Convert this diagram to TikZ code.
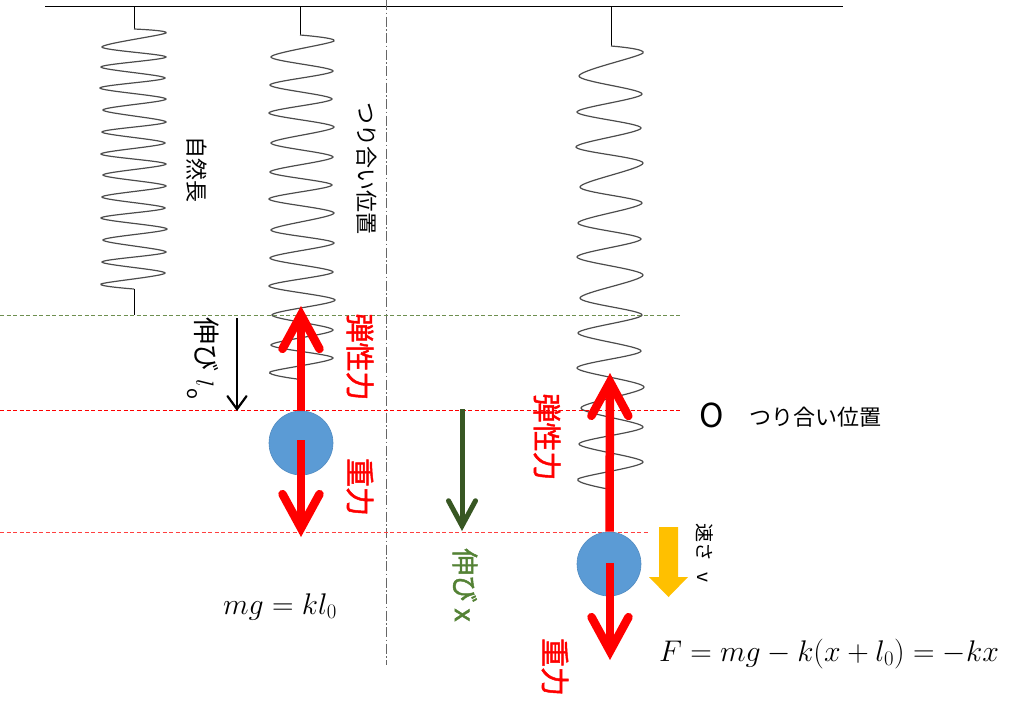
\documentclass[tikz,border=0pt]{standalone}
\usepackage{fontspec}
\setmainfont{Noto Sans CJK JP}
\newfontfamily\jpheavy[FakeBold=1.6]{Noto Sans CJK JP}
\usetikzlibrary{arrows.meta,positioning}
\definecolor{ballblue}{HTML}{5B9BD5}
\definecolor{darkgreen}{HTML}{385723}
\definecolor{labelgreen}{HTML}{548235}
\definecolor{levelgreen}{HTML}{6E8F50}
\definecolor{speedyellow}{HTML}{FFC000}

\begin{document}
\begin{tikzpicture}[x=1pt,y=-1pt,
    coil/.style={draw=black!70,line width=1.2pt},
    wall/.style={line width=1pt},
    level/.style={line width=.6pt,dash pattern=on 4pt off 2.5pt},
    ball/.style={circle,fill=ballblue,draw=ballblue!90!black,line width=.6pt,minimum size=64pt,inner sep=0pt},
    force/.style={red,line width=8.5pt,-{Straight Barb[line cap=round,length=34pt,width=37pt]}},
    txt/.style={rotate=-90,inner sep=0pt,font=\fontsize{22pt}{22pt}\selectfont},
    forcetxt/.style={rotate=-90,inner sep=0pt,red,font=\fontsize{29pt}{29pt}\selectfont\jpheavy},
    formula/.style={inner sep=0pt,font=\fontsize{24pt}{24pt}\selectfont,scale=1.2}]
    \useasboundingbox (0,0) rectangle (1024,721);

    % ceiling and stems
    \coordinate (wallL) at (45,6);
    \coordinate (wallR) at (843,6);
    \draw[wall] (wallL) -- (wallR);
    \foreach \n/\x/\y in {A/134/29,B/300/35,C/611/46}{
        \coordinate (top\n) at (\x,6);
        \coordinate (coil\n) at (\x,\y);
        \draw[wall] (top\n) -- (coil\n);
    }
    \coordinate (endA) at (134,289);
    \coordinate (floorA) at (134,315);
    \draw[wall] (endA) -- (floorA);

    % springs
    \draw[coil] plot[smooth,tension=.5] coordinates {(coilA) (166,33) (102,47) (166,57) (101,67) (165,78) (100,88) (166,99) (103,110) (166,122) (102,132) (165,143) (101,154) (166,164) (103,175) (166,186) (102,197) (165,208) (101,218) (167,229) (103,240) (166,252) (102,262) (165,273) (101,284) (endA)};
    \draw[coil] plot[smooth,tension=.5] coordinates {(coilB) (334,41) (271,57) (333,71) (270,85) (332,99) (269,113) (334,127) (271,143) (333,157) (270,172) (332,185) (269,199) (334,213) (271,230) (334,243) (270,258) (333,272) (269,286) (335,300) (272,315) (333,330) (271,345) (333,358) (270,372) (297,379)};
    \draw[coil] plot[smooth,tension=.5] coordinates {(coilC) (643,53) (579,76) (642,94) (577,112) (641,128) (576,147) (643,163) (580,187) (642,203) (578,223) (641,239) (577,257) (643,275) (580,298) (642,315) (578,333) (641,351) (577,368) (644,387) (581,408) (643,427) (579,444) (643,462) (578,479) (608,489)};

    % levels
    \coordinate (axisT) at (386,0);
    \coordinate (axisB) at (386,665);
    \draw[gray!80!black,line width=1pt,dash pattern=on 10pt off 2.5pt on 1.5pt off 2.5pt] (axisT) -- (axisB);
    \foreach \n/\y/\e/\c in {a/315/682/levelgreen,b/410/680/red,c/532/649/red!75}{
        \coordinate (lev\n L) at (0,\y);
        \coordinate (lev\n R) at (\e,\y);
        \draw[level,draw=\c] (lev\n L) -- (lev\n R);
    }

    % masses
    \node[ball] (massL) at (301,443) {};
    \node[ball] (massR) at (609,564) {};

    % forces
    \coordinate (tipUL) at (301,306);
    \coordinate (tipDL) at (301,537);
    \coordinate (tipUR) at (610,373);
    \coordinate (tipDR) at (610,660);
    \draw[force] (massL.north) -- (tipUL);
    \draw[force] (301,440) -- (tipDL);
    \draw[force] (massR.north) ++(.5,0) -- (tipUR);
    \draw[force] (610,563) -- (tipDR);

    % extension arrows
    \coordinate (stretchT) at (237,318);
    \coordinate (stretchB) at (237,411);
    \draw[line width=2.2pt,-{Straight Barb[line cap=round,length=13pt,width=19pt]}] (stretchT) -- (stretchB);
    \coordinate (extT) at (462,409);
    \coordinate (extB) at (462,531);
    \draw[darkgreen,line width=5pt,-{Straight Barb[line cap=round,length=25pt,width=27pt]}] (extT) -- (extB);
    \fill[speedyellow] (659,527) -- (678,527) -- (678,577) -- (688,577) -- (668.5,597) -- (649,577) -- (659,577) -- cycle;

    % labels
    \node[txt] (natural) at (197,169) {自然長};
    \node[txt] (balance) at (367,168) {つり合い位置};
    \node[txt,font=\fontsize{27pt}{27pt}\selectfont,anchor=west] (stretch) at (203,317) {伸び\hspace{8pt}$l$\hspace{1pt}\raisebox{-9pt}{\fontsize{18pt}{18pt}\selectfont o}};
    \node[forcetxt] (elasticL) at (360,357) {弾性力};
    \node[forcetxt] (gravityL) at (360,487) {重力};
    \node[forcetxt] (elasticR) at (547,437) {弾性力};
    \node[forcetxt] (gravityR) at (555,667) {重力};
    \node[txt,font=\fontsize{27pt}{27pt}\jpheavy,labelgreen] (ext) at (465,585) {伸び x};
    \node[inner sep=0pt,font=\fontsize{33pt}{33pt}\selectfont] (origin) at (712,415) {O};
    \node[inner sep=0pt,font=\fontsize{22pt}{22pt}\selectfont] (balanceR) at (815,417) {つり合い位置};
    \node[txt,font=\fontsize{19pt}{19pt}\selectfont] (speed) at (705,553) {速さ\hspace{11pt}v};
    \node[formula] (eqL) at (280,607) {$mg=kl_0$};
    \node[formula] (eqR) at (829,654) {$F=mg-k(x+l_0)=-kx$};
\end{tikzpicture}
\end{document}
